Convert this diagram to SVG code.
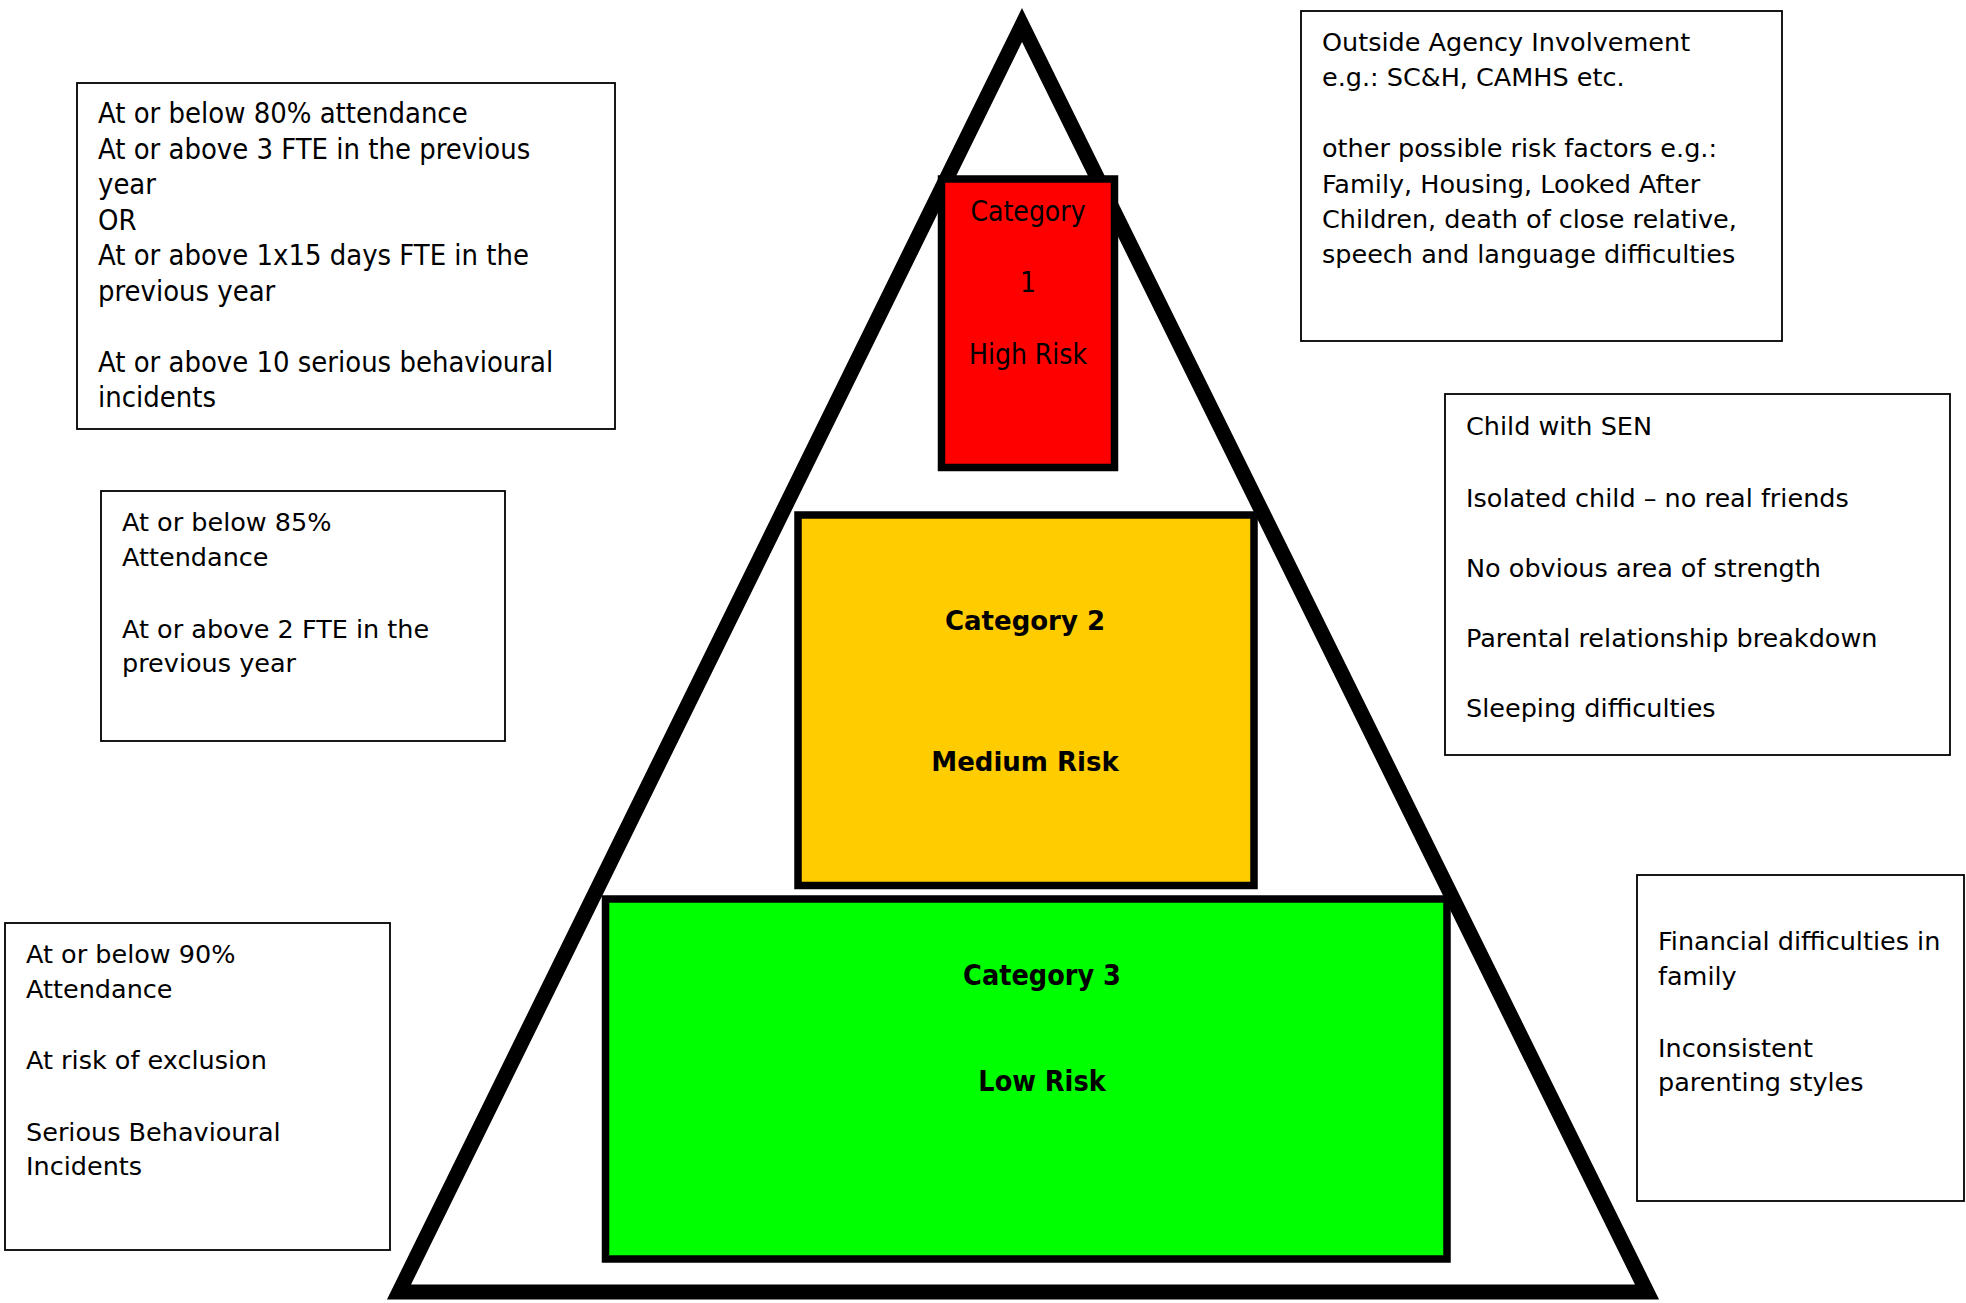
<svg xmlns="http://www.w3.org/2000/svg" width="1966" height="1303" viewBox="0 0 1966 1303">
<style>
.bg{fill:#fff}
.note{fill:#fff;stroke:#000;stroke-width:1.8}
.t{font-family:'DejaVu Sans','Verdana',sans-serif;font-size:25.5px;fill:#000}
.tc{font-family:'DejaVu Sans Condensed','DejaVu Sans',sans-serif;font-stretch:condensed;font-size:28px;fill:#000}
.ta{font-family:'DejaVu Sans Condensed','DejaVu Sans',sans-serif;font-stretch:condensed;font-size:28.9px;fill:#000}
.tb{font-family:'DejaVu Sans','Verdana',sans-serif;font-size:26px;font-weight:bold;fill:#000}
.tcb{font-family:'DejaVu Sans Condensed','DejaVu Sans',sans-serif;font-stretch:condensed;font-weight:bold;font-size:28.5px;fill:#000}
.tier{stroke:#000;stroke-width:7.5}
</style>
<rect class="bg" x="0" y="0" width="1966" height="1303"/>

<g id="pyramid">
  <polygon points="1022,25 1647,1292 399,1292" fill="#fff" stroke="#000" stroke-width="15" stroke-linejoin="miter" stroke-miterlimit="10"/>
</g>

<g id="category1">
  <rect class="tier" x="941.5" y="179" width="173" height="288.5" fill="#FF0000"/>
  <text class="tc" x="1028" y="221" text-anchor="middle">Category</text>
  <text class="tc" x="1028" y="292" text-anchor="middle">1</text>
  <text class="tc" x="1028" y="364" text-anchor="middle">High Risk</text>
</g>

<g id="category2">
  <rect class="tier" x="798" y="515" width="456" height="370.5" fill="#FFCC00"/>
  <text class="tb" x="1025" y="630" text-anchor="middle">Category 2</text>
  <text class="tb" x="1025" y="771" text-anchor="middle">Medium Risk</text>
</g>

<g id="category3">
  <rect class="tier" x="605.5" y="899" width="841.5" height="360" fill="#00FF00"/>
  <text class="tcb" x="1042" y="985" text-anchor="middle">Category 3</text>
  <text class="tcb" x="1042" y="1091" text-anchor="middle">Low Risk</text>
</g>

<g id="box-cat1-criteria">
  <rect class="note" x="77" y="83" width="538" height="346"/>
  <text class="ta" x="98" y="123">At or below 80% attendance</text>
  <text class="ta" x="98" y="158.5">At or above 3 FTE in the previous</text>
  <text class="ta" x="98" y="194">year</text>
  <text class="ta" x="98" y="229.5">OR</text>
  <text class="ta" x="98" y="265">At or above 1x15 days FTE in the</text>
  <text class="ta" x="98" y="300.5">previous year</text>
  <text class="ta" x="98" y="371.5">At or above 10 serious behavioural</text>
  <text class="ta" x="98" y="407">incidents</text>
</g>

<g id="box-cat2-criteria">
  <rect class="note" x="101" y="491" width="404" height="250"/>
  <text class="t" x="122" y="531">At or below 85%</text>
  <text class="t" x="122" y="566">Attendance</text>
  <text class="t" x="122" y="638">At or above 2 FTE in the</text>
  <text class="t" x="122" y="672">previous year</text>
</g>

<g id="box-cat3-criteria">
  <rect class="note" x="5" y="923" width="385" height="327"/>
  <text class="t" x="26" y="963">At or below 90%</text>
  <text class="t" x="26" y="998">Attendance</text>
  <text class="t" x="26" y="1069">At risk of exclusion</text>
  <text class="t" x="26" y="1141">Serious Behavioural</text>
  <text class="t" x="26" y="1175">Incidents</text>
</g>

<g id="box-outside-agency">
  <rect class="note" x="1301" y="11" width="481" height="330"/>
  <text class="t" x="1322" y="51">Outside Agency Involvement</text>
  <text class="t" x="1322" y="86">e.g.: SC&amp;H, CAMHS etc.</text>
  <text class="t" x="1322" y="157">other possible risk factors e.g.:</text>
  <text class="t" x="1322" y="193">Family, Housing, Looked After</text>
  <text class="t" x="1322" y="228">Children, death of close relative,</text>
  <text class="t" x="1322" y="263">speech and language difficulties</text>
</g>

<g id="box-child-factors">
  <rect class="note" x="1445" y="394" width="505" height="361"/>
  <text class="t" x="1466" y="435">Child with SEN</text>
  <text class="t" x="1466" y="507">Isolated child – no real friends</text>
  <text class="t" x="1466" y="577">No obvious area of strength</text>
  <text class="t" x="1466" y="647">Parental relationship breakdown</text>
  <text class="t" x="1466" y="717">Sleeping difficulties</text>
</g>

<g id="box-family-factors">
  <rect class="note" x="1637" y="875" width="327" height="326"/>
  <text class="t" x="1658" y="950">Financial difficulties in</text>
  <text class="t" x="1658" y="985">family</text>
  <text class="t" x="1658" y="1057">Inconsistent</text>
  <text class="t" x="1658" y="1091">parenting styles</text>
</g>
</svg>
